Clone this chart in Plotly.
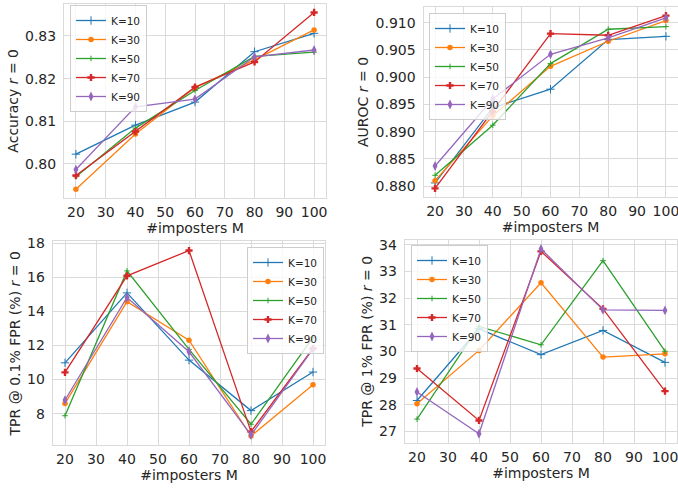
import plotly.graph_objects as go

M = [20, 40, 60, 80, 100]
K_labels = ["K=10", "K=30", "K=50", "K=70", "K=90"]

acc = {
    "K=10": [0.8023, 0.8091, 0.8145, 0.8263, 0.8306],
    "K=30": [0.7941, 0.8070, 0.8179, 0.8244, 0.8314],
    "K=50": [0.7970, 0.8084, 0.8172, 0.8252, 0.8262],
    "K=70": [0.7973, 0.8076, 0.8180, 0.8239, 0.8355],
    "K=90": [0.7987, 0.8134, 0.8152, 0.8251, 0.8267],
}
auroc = {
    "K=10": [0.8806, 0.8944, 0.8978, 0.9069, 0.9075],
    "K=30": [0.8810, 0.8929, 0.9020, 0.9066, 0.9104],
    "K=50": [0.8820, 0.8912, 0.9025, 0.9088, 0.9093],
    "K=70": [0.8796, 0.8937, 0.9080, 0.9077, 0.9113],
    "K=90": [0.8837, 0.8960, 0.9042, 0.9072, 0.9109],
}
tpr01 = {
    "K=10": [10.98, 15.08, 11.14, 8.18, 10.44],
    "K=30": [8.60, 14.56, 12.31, 6.69, 9.70],
    "K=50": [7.88, 16.37, 11.77, 7.38, 12.47],
    "K=70": [10.42, 16.08, 17.56, 6.95, 11.82],
    "K=90": [8.80, 14.81, 11.63, 6.75, 11.80],
}
tpr1 = {
    "K=10": [28.16, 30.85, 29.88, 30.79, 29.59],
    "K=30": [28.04, 30.04, 32.58, 29.79, 29.91],
    "K=50": [27.46, 30.94, 30.25, 33.41, 30.01],
    "K=70": [29.36, 27.41, 33.76, 31.60, 28.51],
    "K=90": [28.48, 26.91, 33.85, 31.56, 31.54],
}

y_titles = ["Accuracy <i>r</i> = 0", "AUROC <i>r</i> = 0",
            "TPR @ 0.1% FPR (%) <i>r</i> = 0", "TPR @ 1% FPR (%) <i>r</i> = 0"]
y_ticks = [[0.80, 0.81, 0.82, 0.83],
           [0.880, 0.885, 0.890, 0.895, 0.900, 0.905, 0.910],
           [8, 10, 12, 14, 16, 18],
           [27, 28, 29, 30, 31, 32, 33, 34]]
y_fmt = [".2f", ".3f", "d", "d"]
x_ticks = [20, 30, 40, 50, 60, 70, 80, 90, 100]

colors = ["#1f77b4", "#ff7f0e", "#2ca02c", "#d62728", "#9467bd"]
markers = [
    dict(symbol="cross-thin", size=6, line=dict(width=1)),
    dict(symbol="circle", size=5.5),
    dict(symbol="cross-thin", size=4, line=dict(width=1)),
    dict(symbol="cross", size=6),
    dict(symbol="diamond-tall", size=7),
]

W, H = 678, 489
boxes = [(64, 326, 3.6, 198), (423.5, 677.5, 7, 197),
         (52.6, 325.4, 241.3, 445.3), (404.6, 677.4, 239.7, 443)]
legpos = [(70, 5), (429, 13), (247, 247), (411, 245)]

datasets = [acc, auroc, tpr01, tpr1]
fig = go.Figure()
grid = "#dadada"
txt = "#262626"

for i, data in enumerate(datasets):
    n = i + 1
    xa = "x" if n == 1 else f"x{n}"
    ya = "y" if n == 1 else f"y{n}"
    leg = "legend" if n == 1 else f"legend{n}"
    for j, k in enumerate(K_labels):
        mk = dict(markers[j], color=colors[j])
        if "line" in mk:
            mk["line"] = dict(mk["line"], color=colors[j])
        fig.add_trace(go.Scatter(
            x=M, y=data[k], name=k, mode="lines+markers",
            line=dict(color=colors[j], width=1.3),
            marker=mk, xaxis=xa, yaxis=ya, legend=leg))
    vals = [v for k in K_labels for v in data[k]]
    lo, hi = min(vals), max(vals)
    pad = (hi - lo) * 0.05
    x0, x1, yt, yb = boxes[i]
    axx = dict(domain=[x0 / W, x1 / W], range=[16, 104], anchor=ya,
               tickvals=x_ticks, showgrid=True, gridcolor=grid, gridwidth=1,
               showline=True, mirror=True, linecolor=grid, linewidth=1,
               zeroline=False, ticks="", ticklabelstandoff=1, automargin=False,
               ticklabeloverflow="allow",
               tickfont=dict(size=14, color=txt),
               title=dict(text="#imposters M", font=dict(size=14, color=txt), standoff=2))
    axy = dict(domain=[1 - yb / H, 1 - yt / H], range=[lo - pad, hi + pad], anchor=xa,
               tickvals=y_ticks[i], tickformat=y_fmt[i], showgrid=True,
               gridcolor=grid, gridwidth=1, showline=True, mirror=True,
               linecolor=grid, linewidth=1, zeroline=False, ticks="",
               ticklabelstandoff=4, automargin=False, ticklabeloverflow="allow",
               tickfont=dict(size=14, color=txt),
               title=dict(text=y_titles[i], font=dict(size=14, color=txt), standoff=3))
    fig.update_layout({("xaxis" if n == 1 else f"xaxis{n}"): axx,
                       ("yaxis" if n == 1 else f"yaxis{n}"): axy})
    lx, ly = legpos[i]
    fig.update_layout({leg: dict(x=lx / W, y=1 - ly / H, xanchor="left", yanchor="top",
                                 bgcolor="rgba(255,255,255,0.8)", bordercolor="#cccccc",
                                 borderwidth=1, font=dict(size=10.5, color=txt),
                                 tracegroupgap=0)})

fig.update_layout(width=W, height=H, margin=dict(l=0, r=0, t=0, b=0, autoexpand=False),
                  plot_bgcolor="white", paper_bgcolor="white",
                  font=dict(family="DejaVu Sans", color=txt), showlegend=True)
fig.write_html("out.html", config={"displayModeBar": False},
               post_script="document.body.style.margin='0';document.body.style.overflow='hidden';")
